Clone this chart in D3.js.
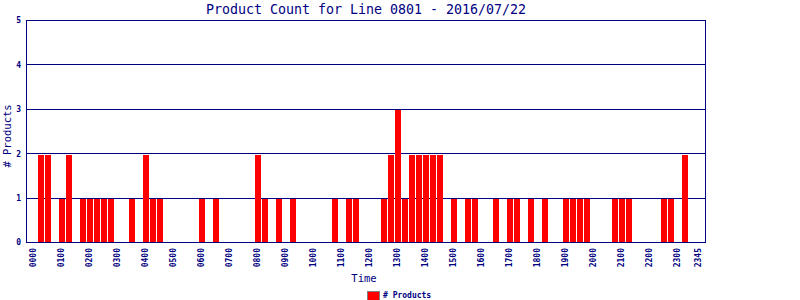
<!DOCTYPE html>
<html>
<head>
<meta charset="utf-8">
<script src="https://cdn.jsdelivr.net/npm/d3@7"></script>
<style>
  body { margin: 0; background: #fff; }
  svg text { font-family: "DejaVu Sans Mono", monospace; fill: #000080; }
</style>
</head>
<body>
<div id="chart"></div>
<script>
// 15 minute slots, 0000 .. 2345
const slots = d3.range(96).map(i => d3.format('02')(Math.floor(i / 4)) + d3.format('02')((i % 4) * 15));
const tickLabels = ['0000','0100','0200','0300','0400','0500','0600','0700','0800','0900','1000','1100',
  '1200','1300','1400','1500','1600','1700','1800','1900','2000','2100','2200','2300','2345'];
// [slot index, count] for slots with product
const counts = [
  [1,2],[2,2],[4,1],[5,2],[7,1],[8,1],[9,1],[10,1],[11,1],[14,1],[16,2],[17,1],[18,1],
  [24,1],[26,1],[32,2],[33,1],[35,1],[37,1],[43,1],[45,1],[46,1],
  [50,1],[51,2],[52,3],[53,1],[54,2],[55,2],[56,2],[57,2],[58,2],[60,1],[62,1],[63,1],
  [66,1],[68,1],[69,1],[71,1],[73,1],[76,1],[77,1],[78,1],[79,1],[83,1],[84,1],[85,1],
  [90,1],[91,1],[93,2]
];
const yTicks = [0, 1, 2, 3, 4, 5];

const width = 800, height = 300;
const plotLeft = 26.5, plotRight = 705.5, plotTop = 20.5, plotBottom = 242.5;

const svg = d3.select('#chart').append('svg')
  .attr('width', width)
  .attr('height', height);

const x = d3.scaleLinear().domain([-1, 96]).range([plotLeft + 0.5, plotRight + 0.5]);
const y = d3.scaleLinear().domain([0, 5]).range([plotBottom, plotTop]);

// grid lines
svg.append('g')
  .selectAll('line')
  .data(yTicks)
  .enter()
  .append('line')
  .attr('x1', plotLeft).attr('x2', plotRight)
  .attr('y1', d => Math.round(y(d) - 0.5) + 0.5)
  .attr('y2', d => Math.round(y(d) - 0.5) + 0.5)
  .attr('stroke', '#000080');

// bars
svg.append('g')
  .selectAll('rect')
  .data(counts)
  .enter()
  .append('rect')
  .attr('x', d => Math.round(x(d[0]) - 3))
  .attr('width', 6)
  .attr('y', d => Math.round(y(d[1])) + 1)
  .attr('height', d => Math.round(y(0)) - Math.round(y(d[1])) - 1)
  .attr('fill', '#ff0000');

// frame
svg.append('rect')
  .attr('x', plotLeft).attr('y', plotTop)
  .attr('width', plotRight - plotLeft).attr('height', plotBottom - plotTop)
  .attr('fill', 'none')
  .attr('stroke', '#000080');

// y tick labels
svg.append('g')
  .selectAll('text')
  .data(yTicks)
  .enter()
  .append('text')
  .attr('x', 21)
  .attr('y', d => y(d))
  .attr('dy', '0.35em')
  .attr('text-anchor', 'end')
  .style('font-size', '8px')
  .style('font-weight', 'bold')
  .text(d => d);

// x tick labels
svg.append('g')
  .selectAll('text')
  .data(tickLabels)
  .enter()
  .append('text')
  .attr('transform', d => 'translate(' + (x(slots.indexOf(d)) - 1) + ',' + 248 + ') rotate(-90)')
  .attr('dy', '0.35em')
  .attr('text-anchor', 'end')
  .style('font-size', '8px')
  .style('font-weight', 'bold')
  .text(d => d);

// title
svg.append('text')
  .attr('x', (plotLeft + plotRight) / 2)
  .attr('y', 14)
  .attr('text-anchor', 'middle')
  .style('font-size', '13.3px')
  .text('Product Count for Line 0801 - 2016/07/22');

// axis titles
svg.append('text')
  .attr('x', 364)
  .attr('y', 282)
  .attr('text-anchor', 'middle')
  .style('font-size', '10.5px')
  .text('Time');

svg.append('text')
  .attr('transform', 'translate(11,136) rotate(-90)')
  .attr('text-anchor', 'middle')
  .style('font-size', '10.5px')
  .text('# Products');

// legend
svg.append('rect')
  .attr('x', 367.5).attr('y', 291.5)
  .attr('width', 12).attr('height', 9)
  .attr('fill', '#ff0000')
  .attr('stroke', '#808080');

svg.append('text')
  .attr('x', 383)
  .attr('y', 298)
  .style('font-size', '8px')
  .style('font-weight', 'bold')
  .text('# Products');
</script>
</body>
</html>
